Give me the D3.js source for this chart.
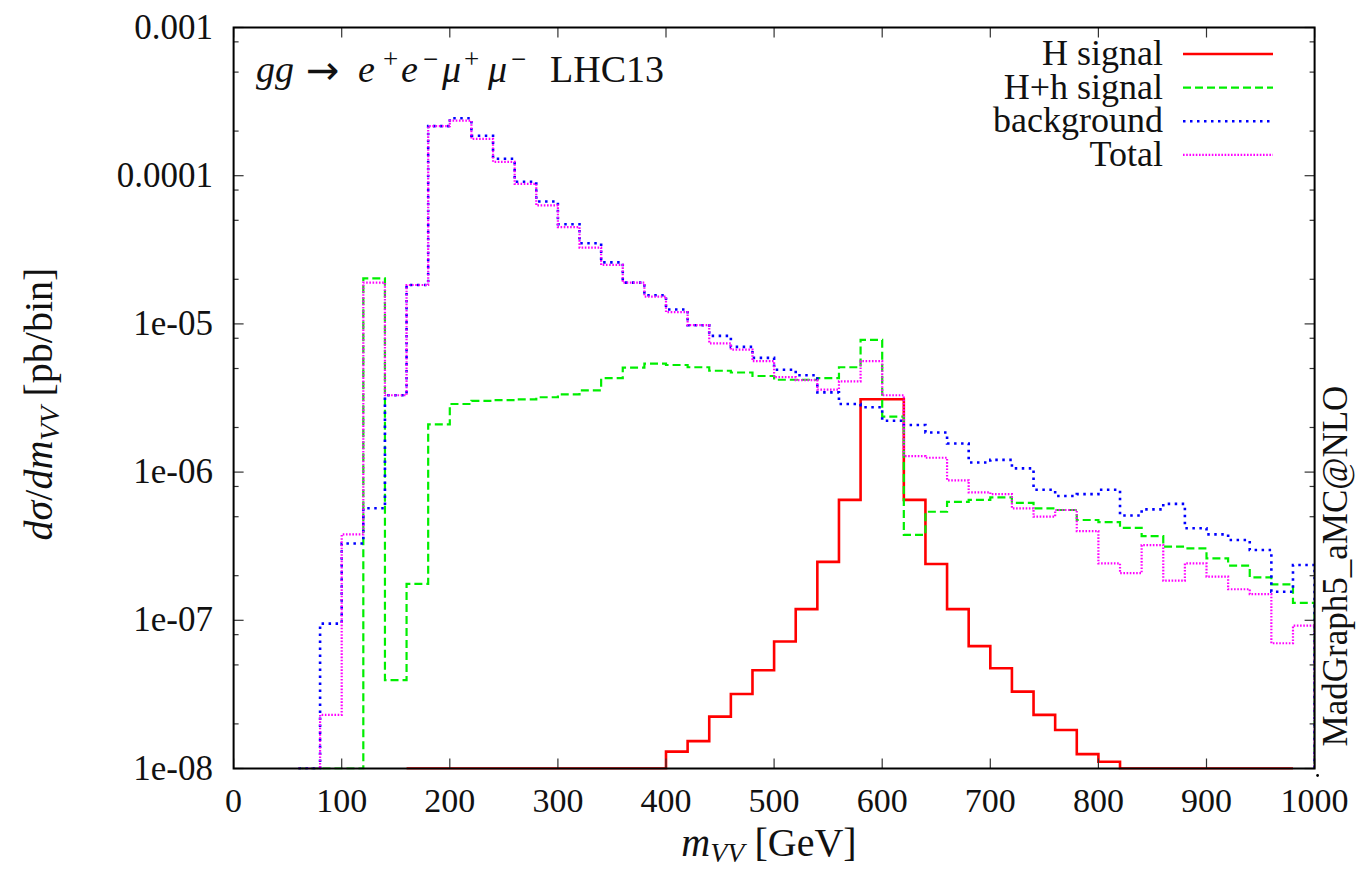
<!DOCTYPE html>
<html>
<head>
<meta charset="utf-8">
<script src="https://cdn.jsdelivr.net/npm/d3@7"></script>
<style>
  body { margin: 0; background: #fff; }
  svg { display: block; }
  text { font-family: "Liberation Serif", "DejaVu Serif", serif; fill: #111; }
</style>
</head>
<body>
<div id="chart"></div>
<script>
// bin lower edges, 20 GeV wide, 60 .. 980
var binLo = d3.range(60, 1000, 20);
var binWidth = 20;

// H signal (null = no entry, 0 = below the plot range)
var hSignal = [null, null, null, null, null,
  0, 0, 0, 0, 0, 0, 0, 0, 0, 0, 0, 0,
  1.3e-8, 1.53e-8, 2.24e-8, 3.18e-8, 4.6e-8, 7.2e-8, 1.19e-7, 2.48e-7, 6.5e-7, 3.1e-6,
  3.1e-6, 6.5e-7, 2.4e-7, 1.19e-7, 6.7e-8, 4.75e-8, 3.3e-8, 2.3e-8, 1.82e-8, 1.25e-8,
  1.11e-8, 0, 0, 0, 0, 0, 0, 0, 0, null];

var hhSignal = [0, 0, 0, 2.03e-5, 3.95e-8, 1.76e-7, 2.1e-6, 2.88e-6, 3.02e-6, 3.06e-6,
  3.1e-6, 3.2e-6, 3.35e-6, 3.56e-6, 4.3e-6, 5.07e-6, 5.4e-6, 5.28e-6, 5.1e-6, 4.83e-6,
  4.7e-6, 4.45e-6, 4.2e-6, 4.2e-6, 4.3e-6, 5.1e-6, 7.8e-6, 2.37e-6, 3.77e-7, 5.4e-7,
  6.3e-7, 6.5e-7, 6.76e-7, 6.2e-7, 5.7e-7, 5.55e-7, 4.75e-7, 4.6e-7, 4.2e-7, 3.7e-7,
  3.14e-7, 3.06e-7, 2.62e-7, 2.34e-7, 1.95e-7, 1.75e-7, 1.31e-7];

var background = [0, 9.5e-8, 3.3e-7, 5.7e-7, 3.3e-6, 1.83e-5, 2.16e-4, 2.44e-4, 1.86e-4, 1.30e-4,
  9.1e-5, 6.7e-5, 4.7e-5, 3.5e-5, 2.6e-5, 1.9e-5, 1.56e-5, 1.25e-5, 9.8e-6, 8.3e-6,
  7.0e-6, 5.9e-6, 4.9e-6, 4.5e-6, 3.45e-6, 2.88e-6, 2.74e-6, 2.22e-6, 2.08e-6, 1.85e-6,
  1.56e-6, 1.16e-6, 1.21e-6, 1.06e-6, 7.6e-7, 6.9e-7, 7.1e-7, 7.6e-7, 5.1e-7, 5.6e-7,
  6.1e-7, 4.18e-7, 3.8e-7, 3.48e-7, 2.98e-7, 1.56e-7, 2.36e-7];

var total = [0, 2.3e-8, 3.8e-7, 1.9e-5, 3.3e-6, 1.83e-5, 2.16e-4, 2.35e-4, 1.77e-4, 1.24e-4,
  8.8e-5, 6.3e-5, 4.5e-5, 3.27e-5, 2.5e-5, 1.9e-5, 1.53e-5, 1.2e-5, 9.8e-6, 7.4e-6,
  6.7e-6, 5.6e-6, 4.37e-6, 4.17e-6, 3.6e-6, 4.1e-6, 5.6e-6, 3.3e-6, 1.28e-6, 1.25e-6,
  8.8e-7, 7.3e-7, 7.1e-7, 5.7e-7, 5.0e-7, 5.55e-7, 4.0e-7, 2.42e-7, 2.08e-7, 3.22e-7,
  1.85e-7, 2.42e-7, 1.97e-7, 1.62e-7, 1.5e-7, 7.0e-8, 9.2e-8];

var seriesNames = ["H signal", "H+h signal", "background", "Total"];
var xTicks = d3.range(0, 1001, 100);
var yTicks = [1e-8, 1e-7, 1e-6, 1e-5, 1e-4, 1e-3];
var yTickLabels = ["1e-08", "1e-07", "1e-06", "1e-05", "0.0001", "0.001"];

(function() {
var W = 1359, H = 871;
var pLeft = 233.6, pRight = 1314.6, pTop = 27.5, pBottom = 768.5;

var svg = d3.select("#chart").append("svg")
  .attr("width", W).attr("height", H);

var x = d3.scaleLinear().domain([0, 1000]).range([pLeft, pRight]);
var y = d3.scaleLog().domain([1e-8, 1e-3]).range([pBottom, pTop]);

var styles = [
  { color: "#ff0000", width: 2.6, dash: null },
  { color: "#00ee00", width: 2.2, dash: "8,4" },
  { color: "#0000ff", width: 2.6, dash: "2.5,4.5" },
  { color: "#ff00ff", width: 2.2, dash: "1.6,1.6" }
];
var seriesData = [hSignal, hhSignal, background, total];

function yc(v) { return y(Math.max(v, 1e-8)); }

// histogram steps, closing down to the baseline at the end
function stepPath(vals) {
  var p = "", open = false;
  vals.forEach(function(v, i) {
    var lo = binLo[i], hi = lo + binWidth;
    if (v === null) {
      if (open) { p += "V" + pBottom; open = false; }
      return;
    }
    if (!open) { p += "M" + x(lo) + "," + yc(v); open = true; }
    else { p += "V" + yc(v); }
    p += "H" + x(hi);
  });
  if (open) p += "V" + pBottom;
  return p;
}

svg.append("clipPath").attr("id", "clip")
  .append("rect").attr("x", pLeft).attr("y", pTop - 1)
  .attr("width", pRight - pLeft).attr("height", pBottom - pTop + 2);

var plot = svg.append("g").attr("clip-path", "url(#clip)");
seriesData.forEach(function(vals, k) {
  plot.append("path")
    .attr("d", stepPath(vals))
    .attr("fill", "none")
    .attr("stroke", styles[k].color)
    .attr("stroke-width", styles[k].width)
    .attr("stroke-dasharray", styles[k].dash);
});

// ticks (inward, on all four sides)
var tickG = svg.append("g").attr("stroke", "#333").attr("stroke-width", 1.2);
xTicks.forEach(function(t) {
  tickG.append("line").attr("x1", x(t)).attr("x2", x(t)).attr("y1", pBottom).attr("y2", pBottom - 10);
  tickG.append("line").attr("x1", x(t)).attr("x2", x(t)).attr("y1", pTop).attr("y2", pTop + 10);
});
var minorY = [];
for (var e = -8; e < -3; e++) [2, 5, 8].forEach(function(m) { minorY.push(m * Math.pow(10, e)); });
yTicks.forEach(function(t) {
  tickG.append("line").attr("x1", pLeft).attr("x2", pLeft + 10).attr("y1", y(t)).attr("y2", y(t));
  tickG.append("line").attr("x1", pRight).attr("x2", pRight - 10).attr("y1", y(t)).attr("y2", y(t));
});
minorY.forEach(function(t) {
  tickG.append("line").attr("x1", pLeft).attr("x2", pLeft + 5).attr("y1", y(t)).attr("y2", y(t));
  tickG.append("line").attr("x1", pRight).attr("x2", pRight - 5).attr("y1", y(t)).attr("y2", y(t));
});

// frame
svg.append("rect")
  .attr("x", pLeft).attr("y", pTop)
  .attr("width", pRight - pLeft).attr("height", pBottom - pTop)
  .attr("fill", "none").attr("stroke", "#000").attr("stroke-width", 2);
svg.append("circle").attr("cx", pRight + 3).attr("cy", pBottom + 7).attr("r", 1.4).attr("fill", "#000");

// tick labels
svg.append("g").selectAll("text").data(xTicks).join("text")
  .attr("x", function(d) { return x(d); })
  .attr("y", 812)
  .attr("text-anchor", "middle")
  .style("font-size", "34px")
  .text(function(d) { return d; });

svg.append("g").selectAll("text").data(yTicks).join("text")
  .attr("x", 213)
  .attr("y", function(d) { return y(d) + 11; })
  .attr("text-anchor", "end")
  .style("font-size", "35px")
  .text(function(d, i) { return yTickLabels[i]; });

// axis labels
var xl = svg.append("text").attr("x", 769).attr("y", 856)
  .attr("text-anchor", "middle").style("font-size", "40px");
xl.append("tspan").style("font-style", "italic").text("m");
xl.append("tspan").style("font-style", "italic").style("font-size", "28px").attr("dy", 6).text("VV");
xl.append("tspan").attr("dy", -6).text("  [GeV]");

var yl = svg.append("text")
  .attr("transform", "translate(52,404) rotate(-90)")
  .attr("text-anchor", "middle").style("font-size", "40px");
yl.append("tspan").style("font-style", "italic").text("dσ");
yl.append("tspan").text("/");
yl.append("tspan").style("font-style", "italic").text("dm");
yl.append("tspan").style("font-style", "italic").style("font-size", "28px").attr("dy", 7).text("VV");
yl.append("tspan").attr("dy", -7).text("  [pb/bin]");

svg.append("text")
  .attr("transform", "translate(1347,566) rotate(-90)")
  .attr("text-anchor", "middle").style("font-size", "35px")
  .text("MadGraph5_aMC@NLO");

// process label, glyph positions follow the typeset original
var tl = svg.append("text").attr("y", 82).style("font-size", "38px");
var titleParts = [
  { t: "gg", x: 256, it: true },
  { t: "→", x: 306, arrow: true },
  { t: "e", x: 358, it: true }, { t: "+", x: 383, sup: true },
  { t: "e", x: 401, it: true }, { t: "−", x: 423, sup: true },
  { t: "μ", x: 442, it: true }, { t: "+", x: 464, sup: true },
  { t: "μ", x: 488, it: true }, { t: "−", x: 511, sup: true },
  { t: "LHC13", x: 550 }
];
titleParts.forEach(function(p) {
  var s = tl.append("tspan").attr("x", p.x).attr("y", p.sup ? 68 : 82).text(p.t);
  if (p.it) s.style("font-style", "italic");
  if (p.sup) s.style("font-size", "27px");
  if (p.arrow) s.style("font-family", "DejaVu Sans").style("font-size", "40px").attr("y", 84);
});

// legend
var legend = svg.append("g");
seriesNames.forEach(function(name, k) {
  var ly = 54 + k * 33.6;
  legend.append("text").attr("x", 1163).attr("y", ly + 11)
    .attr("text-anchor", "end").style("font-size", "36px").text(name);
  legend.append("line")
    .attr("x1", 1183).attr("x2", 1273).attr("y1", ly).attr("y2", ly)
    .attr("stroke", styles[k].color)
    .attr("stroke-width", styles[k].width)
    .attr("stroke-dasharray", styles[k].dash);
});
})();
</script>
</body>
</html>
